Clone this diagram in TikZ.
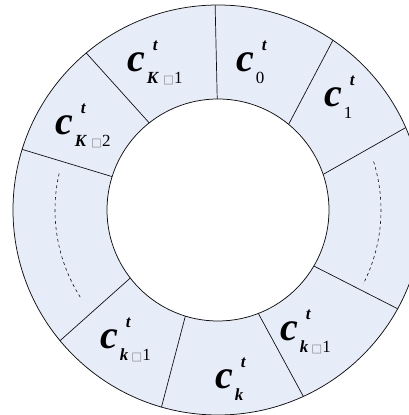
\documentclass[tikz,border=0pt]{standalone}
\usepackage{fontspec}
\setmainfont{Liberation Serif}
\newfontfamily\symfont{DejaVu Sans}
\usepackage{xcolor}
\usepackage{tikz}
\usetikzlibrary{positioning}
\definecolor{ringfill}{HTML}{E7EDF8}
\definecolor{ink}{HTML}{111111}
\definecolor{boxgray}{HTML}{8A8A8A}
\newcommand{\cbig}{{\fontsize{40}{40}\selectfont\bfseries\itshape c}}
\newcommand{\sq}{{\symfont\fontsize{11.5}{11.5}\selectfont\textcolor{boxgray}{□}}}
\newcommand{\cidx}[1]{\cbig\kern2pt\rlap{\raisebox{21pt}{\hspace{6pt}\fontsize{17}{17}\selectfont\bfseries\itshape t}}\raisebox{-12pt}{\fontsize{17}{17}\selectfont #1}}
\tikzset{
  ring/.style   ={draw=ink, line width=0.75pt},
  spoke/.style  ={draw=ink, line width=0.7pt},
  gaparc/.style ={draw=ink, line width=0.6pt, dashed},
  lbl/.style    ={anchor=base west, inner sep=0pt, text=black},
}
\begin{document}
\begin{tikzpicture}[x=1pt,y=1pt]
\useasboundingbox (-218,-205) rectangle (191,210);
\clip (-218,-205) rectangle (191,210);
% ring
\fill[ringfill, even odd rule] (0,0) circle (205pt) (0,0) circle (111pt);
\draw[ring] (0,0) circle (205pt);
\draw[ring] (0,0) circle (111pt);
% spokes (inner angle / outer angle)
\foreach \a/\b in {90.4/90.8, 50.5/55.9, 18.7/23.7, -30.3/-28.8, -68.7/-65.4,
                   -107.1/-106, 217.8/219.6, 162.5/162.8, 128.3/130}
  \draw[spoke] (\a:111pt) -- (\b:205pt);
% skipped slots
\draw[gaparc] (167:163pt) arc[start angle=167, end angle=212.3, radius=163pt];
\draw[gaparc] (17.3:163pt) arc[start angle=17.3, end angle=-27, radius=163pt];
% slot labels
\node[lbl] (cK1) at (-91,138)  {\cidx{\textbf{\textit{K}}\hspace{4pt}\sq1}};
\node[lbl] (c0)  at (18,138)   {\cidx{0}};
\node[lbl] (c1)  at (106,103)  {\cidx{1}};
\node[lbl] (cK2) at (-163,75)  {\cidx{\textbf{\textit{K}}\hspace{4pt}\sq2}};
\node[lbl] (ckm) at (-118,-138){\cidx{\textbf{\textit{k}}\hspace{3pt}\sq1}};
\node[lbl] (ck)  at (-3,-178)  {\cidx{\textbf{\textit{k}}}};
\node[lbl] (ckp) at (62,-130)  {\cidx{\textbf{\textit{k}}\hspace{3pt}\sq1}};
\end{tikzpicture}
\end{document}
